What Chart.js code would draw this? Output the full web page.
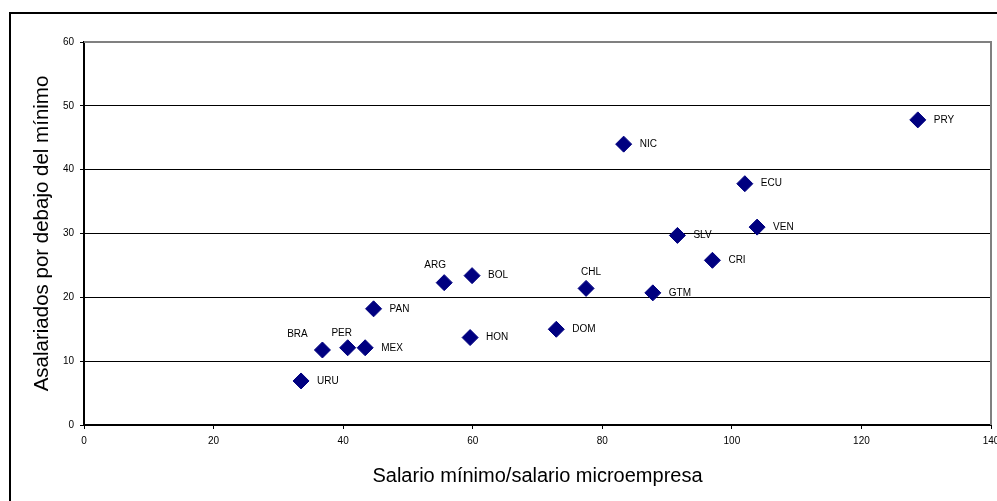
<!DOCTYPE html>
<html>
<head>
<meta charset="utf-8">
<script src="https://cdn.jsdelivr.net/npm/chart.js@4"></script>
<style>
  html, body { margin: 0; padding: 0; background: #fff; }
  #wrap { width: 997px; height: 501px; }
</style>
</head>
<body>
<div id="wrap"><canvas id="mainChart" width="997" height="501"></canvas></div>
<script>
// ===== DATA =====
const countries = ["URU", "BRA", "PER", "MEX", "PAN", "ARG", "BOL", "HON", "DOM",
                   "CHL", "GTM", "SLV", "CRI", "VEN", "ECU", "NIC", "PRY"];
// Salario mínimo / salario microempresa
const wageRatio = [33.5, 36.8, 40.7, 43.4, 44.7, 55.6, 59.9, 59.6, 72.9,
                   77.5, 87.8, 91.6, 97.0, 103.9, 102.0, 83.3, 128.7];
// Asalariados por debajo del mínimo
const belowMin = [6.9, 11.75, 12.1, 12.1, 18.2, 22.3, 23.4, 13.7, 15.0,
                  21.4, 20.7, 29.7, 25.8, 31.0, 37.8, 44.0, 47.8];
const xTicks = [0, 20, 40, 60, 80, 100, 120, 140];
const yTicks = [0, 10, 20, 30, 40, 50, 60];

const FONT = "Arial, 'Liberation Sans', sans-serif";

// labels that sit above the marker instead of to the right (dx of centre, dy)
const labelAbove = {
  BRA: [-25, -16],
  PER: [-6, -15],
  ARG: [-9, -17],
  CHL: [5, -16]
};

// ==========================
// Plugins
// ==========================
const frame = {
  id: "frame",
  beforeDraw(chart) {
    const ctx = chart.ctx;
    ctx.save();
    ctx.fillStyle = "#fff";
    ctx.fillRect(0, 0, chart.width, chart.height);
    ctx.strokeStyle = "#000";
    ctx.lineWidth = 2;
    ctx.strokeRect(10, 13, 1000, 500);
    ctx.restore();
  },
  afterDraw(chart) {
    const { ctx, chartArea: a } = chart;
    ctx.save();
    ctx.strokeStyle = "#808080";
    ctx.lineWidth = 2;
    ctx.beginPath();
    ctx.moveTo(a.left, a.top);
    ctx.lineTo(a.right, a.top);
    ctx.lineTo(a.right, a.bottom);
    ctx.stroke();
    ctx.restore();
  }
};

const pointLabels = {
  id: "pointLabels",
  afterDatasetsDraw(chart) {
    const ctx = chart.ctx;
    const meta = chart.getDatasetMeta(0);
    ctx.save();
    ctx.font = "10px " + FONT;
    ctx.fillStyle = "#000";
    ctx.textBaseline = "middle";
    meta.data.forEach((pt, i) => {
      const name = countries[i];
      const off = labelAbove[name];
      if (off) {
        ctx.textAlign = "center";
        ctx.fillText(name, pt.x + off[0], pt.y + off[1]);
      } else {
        ctx.textAlign = "left";
        ctx.fillText(name, pt.x + 16, pt.y);
      }
    });
    ctx.restore();
  }
};

// ==========================
// Render Chart.js Chart
// ==========================
function renderChart() {
  const points = wageRatio.map((x, i) => ({ x, y: belowMin[i] }));

  new Chart(document.getElementById("mainChart"), {
    type: "scatter",
    data: {
      datasets: [{
        data: points,
        pointStyle: "rectRot",
        pointRadius: 8,
        pointHoverRadius: 8,
        backgroundColor: "#000080",
        borderColor: "#000080",
        borderWidth: 1
      }]
    },
    options: {
      responsive: false,
      animation: false,
      layout: { padding: { left: 0, top: 42, right: 6, bottom: 0 } },
      plugins: { legend: { display: false }, tooltip: { enabled: false } },
      scales: {
        x: {
          type: "linear",
          min: 0,
          max: 140,
          afterBuildTicks: s => { s.ticks = xTicks.map(v => ({ value: v })); },
          afterFit: s => { s.height = 76; s.paddingLeft = 0; s.paddingRight = 0; },
          border: { color: "#000", width: 2 },
          grid: { drawOnChartArea: false, drawTicks: true, tickLength: 4, tickColor: "#000" },
          ticks: { color: "#000", font: { family: FONT, size: 10 }, padding: 6, maxRotation: 0, autoSkip: false },
          title: {
            display: true,
            text: "Salario mínimo/salario microempresa",
            color: "#000",
            font: { family: FONT, size: 20 },
            padding: { top: 0, bottom: 13 }
          }
        },
        y: {
          type: "linear",
          min: 0,
          max: 60,
          afterBuildTicks: s => { s.ticks = yTicks.map(v => ({ value: v })); },
          afterFit: s => { s.width = 84; s.paddingTop = 0; s.paddingBottom = 0; s.paddingRight = 0; },
          border: { color: "#000", width: 2 },
          grid: {
            color: c => (c.tick && c.tick.value === 60) ? "rgba(0,0,0,0)" : "#000",
            lineWidth: 1,
            tickLength: 4,
            tickColor: "#000"
          },
          ticks: { color: "#000", font: { family: FONT, size: 10 }, padding: 6 },
          title: {
            display: true,
            text: "Asalariados por debajo del mínimo",
            color: "#000",
            font: { family: FONT, size: 20.5 },
            padding: { top: 30, bottom: 0 }
          }
        }
      }
    },
    plugins: [frame, pointLabels,
      {
        id: "fixArea",
        beforeLayout(chart) {
          // the x scale reserves room for half of the "140" label; give it back
          chart.options.layout.padding.right = 6;
        },
        afterLayout(chart) {
          const a = chart.chartArea;
          const x = chart.scales.x;
          if (a.right < 991) {
            const d = 991 - a.right;
            a.right = 991;
            a.width = a.right - a.left;
            x.right += d;
            x.width = x.right - x.left;
            x.configure();
          }
        }
      }]
  });
}

renderChart();
</script>
</body>
</html>
